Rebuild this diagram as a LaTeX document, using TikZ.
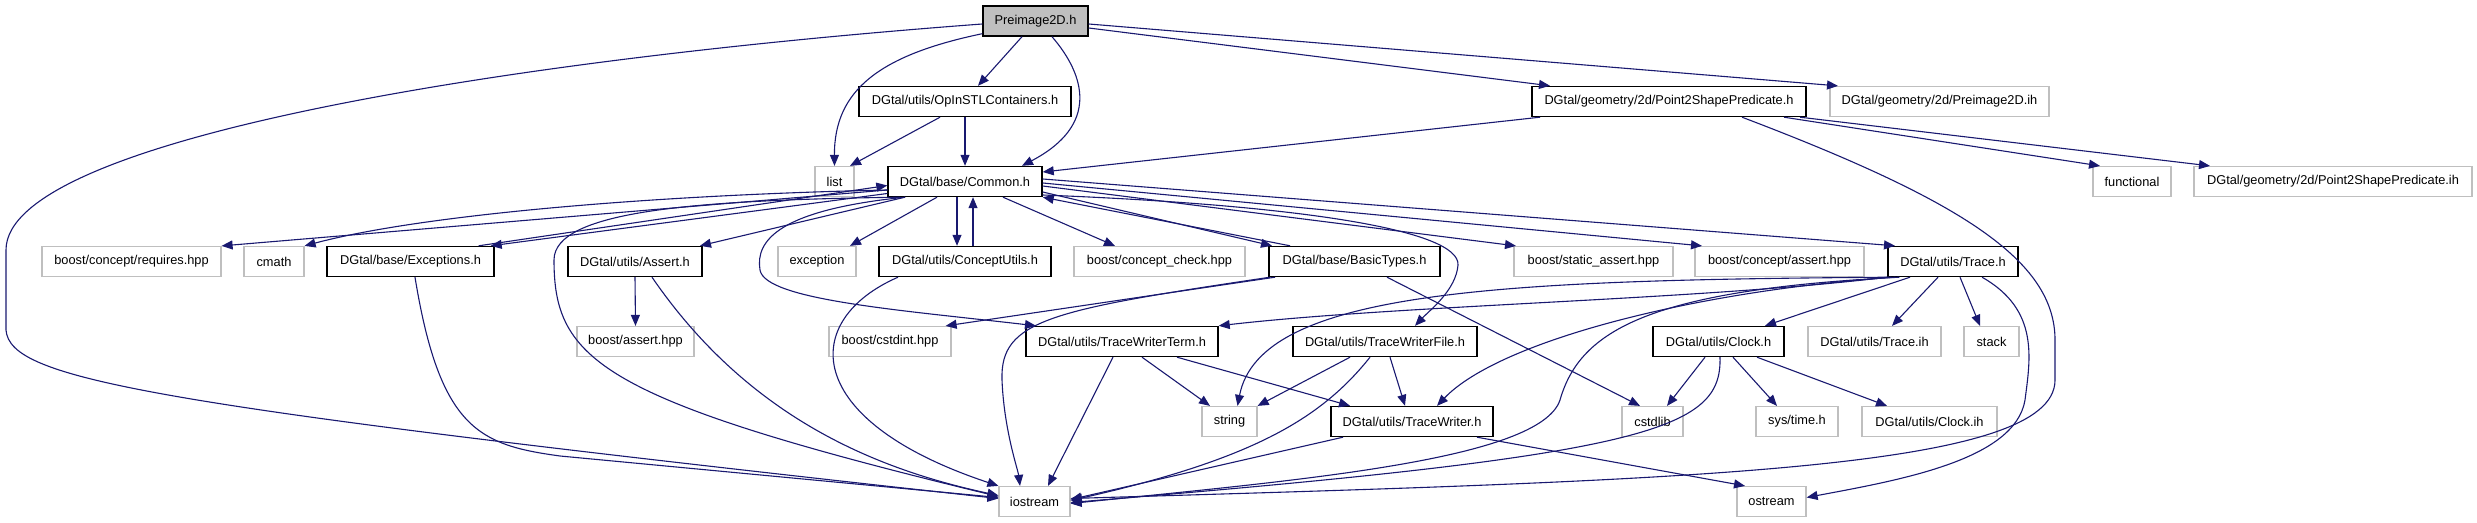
\documentclass[tikz,border=0pt]{standalone}
\usepackage{fontspec}
\setmainfont{Liberation Sans}
\usetikzlibrary{arrows.meta}
\definecolor{edgec}{HTML}{191970}
\definecolor{greyb}{HTML}{BFBFBF}
\tikzset{
  box/.style={rectangle, inner sep=0pt, minimum height=15pt, fill=white, font=\fontsize{6.4pt}{7.5pt}\selectfont, text=black},
  blk/.style={box, draw=black, line width=0.7pt},
  ext/.style={box, draw=greyb, line width=0.6pt},
  root/.style={blk, fill=greyb},
  wd/.style={minimum width=#1*0.5pt},
  e/.style={draw=edgec, line width=0.55pt, -{Triangle[length=5.5pt,width=4.5pt]}},
}
\begin{document}
\begin{tikzpicture}[x=0.5pt,y=-0.5pt]
\useasboundingbox (0,0) rectangle (2477,523);
% nodes
\node[root,wd=105] (pre) at (1035.5,21) {Preimage2D.h};
\node[blk,wd=212] (opin) at (965,101.5) {DGtal/utils/OpInSTLContainers.h};
\node[blk,wd=274] (p2s) at (1669,101.5) {DGtal/geometry/2d/Point2ShapePredicate.h};
\node[ext,wd=219] (preih) at (1939.5,101.5) {DGtal/geometry/2d/Preimage2D.ih};
\node[ext,wd=39] (list) at (834.5,181.5) {list};
\node[blk,wd=154] (common) at (965,181.5) {DGtal/base/Common.h};
\node[ext,wd=78] (functional) at (2132,181.5) {functional};
\node[ext,wd=278] (p2sih) at (2333,181.5) {DGtal/geometry/2d/Point2ShapePredicate.ih};
\node[ext,wd=179] (requires) at (131.5,261.5) {boost/concept/requires.hpp};
\node[ext,wd=60] (cmath) at (274,261.5) {cmath};
\node[blk,wd=167] (exceptions) at (410.5,261.5) {DGtal/base/Exceptions.h};
\node[blk,wd=134] (assert) at (635,261.5) {DGtal/utils/Assert.h};
\node[ext,wd=78] (exception) at (817,261.5) {exception};
\node[blk,wd=172] (conceptutils) at (965,261.5) {DGtal/utils/ConceptUtils.h};
\node[ext,wd=171] (conceptcheck) at (1159.5,261.5) {boost/concept\_check.hpp};
\node[blk,wd=171] (basictypes) at (1354.5,261.5) {DGtal/base/BasicTypes.h};
\node[ext,wd=159] (staticassert) at (1593.5,261.5) {boost/static\_assert.hpp};
\node[ext,wd=169] (conceptassert) at (1779.5,261.5) {boost/concept/assert.hpp};
\node[blk,wd=130] (trace) at (1953,261.5) {DGtal/utils/Trace.h};
\node[ext,wd=117] (boostassert) at (635.5,341.5) {boost/assert.hpp};
\node[ext,wd=122] (cstdint) at (890,341.5) {boost/cstdint.hpp};
\node[blk,wd=192] (twterm) at (1122,341.5) {DGtal/utils/TraceWriterTerm.h};
\node[blk,wd=184] (twfile) at (1385,341.5) {DGtal/utils/TraceWriterFile.h};
\node[blk,wd=131] (clock) at (1718.5,341.5) {DGtal/utils/Clock.h};
\node[ext,wd=133] (traceih) at (1874.5,341.5) {DGtal/utils/Trace.ih};
\node[ext,wd=55] (stack) at (1991.5,341.5) {stack};
\node[ext,wd=55] (string) at (1229.5,421.5) {string};
\node[blk,wd=162] (tw) at (1412,421.5) {DGtal/utils/TraceWriter.h};
\node[ext,wd=61] (cstdlib) at (1652.5,421.5) {cstdlib};
\node[ext,wd=82] (systime) at (1797,421.5) {sys/time.h};
\node[ext,wd=135] (clockih) at (1929.5,421.5) {DGtal/utils/Clock.ih};
\node[ext,wd=71] (iostream) at (1034.5,501.5) {iostream};
\node[ext,wd=69] (ostream) at (1771.5,501.5) {ostream};
% edges from Preimage2D.h
\draw[e] ([yshift=1.5pt]pre.south west) .. controls (880,55) and (834,90) .. (list.north);
\draw[e] ([xshift=-6.75pt]pre.south) -- ([xshift=6.5pt]opin.north);
\draw[e] ([xshift=8.25pt]pre.south) .. controls (1085,75) and (1100,125) .. ([xshift=28.5pt]common.north);
\draw[e] ([yshift=-3.5pt]pre.east) -- ([xshift=-59.5pt]p2s.north);
\draw[e] ([yshift=-1.5pt]pre.east) -- ([xshift=-50.75pt]preih.north);
\draw[e] ([yshift=-1.5pt]pre.west) .. controls (500,60) and (6,140) .. (6,250) -- (6,330) .. controls (10,380) and (150,405) .. ([yshift=1.5pt]iostream.west);
% OpInSTLContainers
\draw[e] ([xshift=-12.5pt]opin.south) -- ([xshift=7.75pt]list.north);
\draw[e] (opin.south) -- (common.north);
% Point2ShapePredicate.h
\draw[e] ([xshift=-64.5pt]p2s.south) -- ([yshift=4.75pt]common.east);
\draw[e] ([xshift=36.5pt]p2s.south) .. controls (1960,200) and (2055,260) .. (2055,340) -- (2055,380) .. controls (2055,470) and (1700,480) .. ([yshift=1.5pt]iostream.east);
\draw[e] ([xshift=57.5pt]p2s.south) -- ([xshift=-16pt]functional.north);
\draw[e] ([xshift=65.5pt]p2s.south) -- ([xshift=-61.5pt]p2sih.north);
% Common.h
\draw[e] ([yshift=-4.25pt]common.west) -- (requires.north east);
\draw[e] ([yshift=-4.25pt]common.west) .. controls (650,195) and (420,215) .. (cmath.north east);
\draw[e] ([yshift=-6pt]common.west) -- ([xshift=-2pt]exceptions.north east);
\draw[e] ([xshift=-8pt]exceptions.north east) -- ([yshift=-2pt]common.west);
\draw[e] ([xshift=-30pt]common.south) -- ([xshift=32.5pt]assert.north);
\draw[e] ([xshift=-14pt]common.south) -- ([xshift=16.5pt]exception.north);
\draw[e] ([xshift=-4pt]common.south) -- ([xshift=-4pt]conceptutils.north);
\draw[e] ([xshift=4pt]conceptutils.north) -- ([xshift=4pt]common.south);
\draw[e] ([xshift=19pt]common.south) -- ([xshift=-22.25pt]conceptcheck.north);
\draw[e] ([yshift=-5.25pt]common.east) -- ([xshift=-41.25pt]basictypes.north);
\draw[e] ([xshift=-32.25pt]basictypes.north) -- (common.south east);
\draw[e] ([yshift=-2.25pt]common.east) -- ([xshift=-38.75pt]staticassert.north);
\draw[e] ([yshift=-0.75pt]common.east) -- ([xshift=-38.75pt]conceptassert.north);
\draw[e] ([yshift=1.25pt]common.east) -- ([xshift=-29pt]trace.north);
\draw[e] ([xshift=-32.5pt]common.south) .. controls (700,200) and (554,210) .. (554,260) .. controls (554,360) and (600,400) .. ([yshift=2.5pt]iostream.west);
\draw[e] ([xshift=-30pt]common.south) .. controls (780,210) and (755,240) .. (760,270) .. controls (765,300) and (900,310) .. ([xshift=-43pt]twterm.north);
\draw[e] ([yshift=-6.75pt]common.east) .. controls (1300,205) and (1460,230) .. (1458,265) .. controls (1456,290) and (1430,310) .. ([xshift=15pt]twfile.north);
% Exceptions, Assert, ConceptUtils
\draw[e] ([xshift=2.25pt]exceptions.south) .. controls (440,430) and (480,445) .. (560,456) -- ([yshift=2pt]iostream.west);
\draw[e] (assert.south) -- (boostassert.north);
\draw[e] ([xshift=8.5pt]assert.south) .. controls (750,420) and (880,470) .. ([yshift=3pt]iostream.west);
\draw[e] ([xshift=-33.5pt]conceptutils.south) .. controls (800,320) and (800,420) .. (iostream.north west);
% BasicTypes
\draw[e] ([xshift=-39.75pt]basictypes.south) -- ([xshift=-3pt]cstdint.north east);
\draw[e] ([xshift=-42.25pt]basictypes.south) .. controls (1050,310) and (1000,320) .. (1002,380) .. controls (1004,430) and (1018,470) .. ([xshift=-7.25pt]iostream.north);
\draw[e] ([xshift=16.25pt]basictypes.south) -- ([xshift=-6.25pt]cstdlib.north);
% Trace.h
\draw[e] (trace.south west) .. controls (1700,300) and (1400,305) .. (twterm.north east);
\draw[e] ([xshift=2pt]trace.south west) .. controls (1500,280) and (1260,290) .. ([xshift=4pt]string.north);
\draw[e] ([xshift=4pt]trace.south west) .. controls (1700,290) and (1500,340) .. ([xshift=12.5pt]tw.north);
\draw[e] ([xshift=6pt]trace.south west) .. controls (1650,290) and (1580,330) .. (1560,400) .. controls (1540,460) and (1300,480) .. ([yshift=-1pt]iostream.east);
\draw[e] ([xshift=-21.5pt]trace.south) -- ([xshift=23.25pt]clock.north);
\draw[e] ([xshift=-7.5pt]trace.south) -- ([xshift=8.75pt]traceih.north);
\draw[e] ([xshift=3.5pt]trace.south) -- ([xshift=-5.75pt]stack.north);
\draw[e] ([xshift=14.5pt]trace.south) .. controls (2040,310) and (2030,360) .. (2025,400) .. controls (2015,460) and (1900,480) .. ([yshift=2pt]ostream.east);
% TraceWriterTerm, TraceWriterFile, TraceWriter
\draw[e] ([xshift=10pt]twterm.south) -- ([xshift=-9.75pt]string.north);
\draw[e] ([xshift=27.5pt]twterm.south) -- ([xshift=-31pt]tw.north);
\draw[e] ([xshift=-4.5pt]twterm.south) -- ([xshift=6.75pt]iostream.north);
\draw[e] ([xshift=-17.5pt]twfile.south) -- (string.north east);
\draw[e] ([xshift=2.5pt]twfile.south) -- ([xshift=-3.5pt]tw.north);
\draw[e] ([xshift=-7.5pt]twfile.south) .. controls (1320,420) and (1250,460) .. ([yshift=0.5pt]iostream.east);
\draw[e] ([xshift=-34.5pt]tw.south) -- ([yshift=1pt]iostream.east);
\draw[e] ([xshift=32.5pt]tw.south) -- ([xshift=-13.25pt]ostream.north);
% Clock.h
\draw[e] ([xshift=-6.75pt]clock.south) -- ([xshift=7.25pt]cstdlib.north);
\draw[e] ([xshift=7.25pt]clock.south) -- ([xshift=-10pt]systime.north);
\draw[e] ([xshift=19.25pt]clock.south) -- ([xshift=-21.25pt]clockih.north);
\draw[e] ([xshift=0.75pt]clock.south) .. controls (1722,430) and (1650,455) .. ([yshift=-0.5pt]iostream.east);
\end{tikzpicture}
\end{document}
